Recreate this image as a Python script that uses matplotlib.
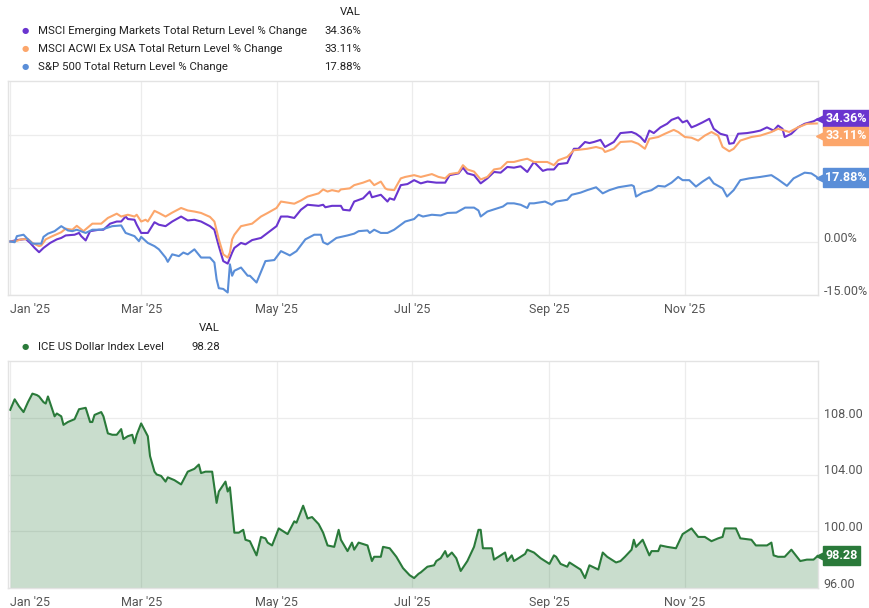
import pandas as pd
import matplotlib
matplotlib.use("Agg")
import matplotlib.pyplot as plt
import matplotlib.dates as mdates
import matplotlib.transforms as mtransforms

plt.rcParams['font.family'] = ['Roboto', 'DejaVu Sans']

# x values are days since 1 Jan 2025
START = pd.Timestamp('2025-01-01')

em_days = [0, 3, 7, 9, 11, 13, 15, 18, 21, 23, 25, 29, 31, 32, 34, 36, 40, 42, 45, 48,
           50, 52, 53, 56, 57, 59, 62, 65, 67, 70, 73, 77, 80, 83, 86, 90, 92, 94, 96, 98,
           100, 101, 104, 106, 109, 113, 116, 120, 122, 125, 128, 131, 134, 139, 141, 142,
           145, 149, 150, 153, 155, 159, 162, 163, 167, 170, 171, 173, 176, 179, 182, 185,
           188, 192, 196, 198, 202, 204, 206, 209, 212, 215, 218, 221, 224, 227, 230, 233,
           236, 240, 242, 245, 247, 251, 254, 256, 259, 261, 263, 266, 268, 272, 275, 280,
           282, 284, 286, 288, 290, 293, 296, 298, 301, 303, 305, 307, 309, 312, 315, 317,
           320, 323, 324, 326, 328, 332, 335, 338, 341, 344, 346, 348, 349, 352, 355, 358,
           362, 364]
em_vals = [0, 0.4, 0.7, -0.4, -1.8, -3.0, -1.8, -0.4, 0.6, 1.0, 1.7, 1.9, 2.4, 1.5, 0.3, 2.9,
           3.3, 3.3, 5.0, 5.6, 5.6, 7.0, 6.3, 6.1, 4.7, 2.4, 2.4, 5.4, 4.7, 4.3, 5.6, 7.0, 5.9,
           6.1, 5.6, 4.3, 3.3, -1.3, -5.5, -6.2, -3.1, -1.8, -0.4, -0.8, 0.4, 1.0, 2.4, 4.3,
           7.0, 7.0, 6.6, 8.9, 10.3, 10.0, 10.3, 9.6, 10.0, 10.0, 8.9, 8.7, 11.2, 12.1, 14.0,
           12.4, 13.1, 11.2, 12.1, 11.7, 15.8, 16.1, 17.2, 16.3, 16.8, 16.5, 16.5, 18.6, 19.1,
           20.7, 19.1, 18.6, 16.3, 17.7, 19.5, 19.3, 20.9, 20.7, 21.1, 19.5, 22.3, 19.8, 20.2,
           20.2, 21.7, 22.0, 26.0, 26.0, 27.9, 27.6, 27.9, 28.5, 26.5, 27.9, 30.4, 30.7, 30.2,
           29.3, 27.9, 31.1, 30.4, 32.0, 33.0, 34.1, 34.8, 33.4, 33.9, 32.0, 32.5, 33.4, 34.4,
           31.6, 30.2, 29.7, 27.4, 27.6, 30.2, 30.4, 30.7, 31.1, 32.0, 31.1, 32.5, 31.6, 29.3,
           30.2, 32.0, 33.0, 33.7, 34.36]

acwi_days = [0, 2, 5, 8, 10, 13, 14, 16, 19, 23, 25, 28, 30, 33, 37, 41, 44, 48, 50, 53,
             56, 57, 59, 61, 62, 65, 67, 70, 73, 77, 80, 83, 86, 90, 92, 94, 96, 98, 99, 100,
             101, 104, 109, 113, 116, 120, 122, 128, 131, 134, 139, 141, 143, 145, 148, 149,
             153, 155, 159, 162, 164, 167, 169, 170, 173, 176, 178, 182, 185, 190, 193, 196,
             198, 202, 204, 206, 209, 212, 215, 218, 221, 224, 227, 230, 233, 236, 242, 245,
             247, 251, 254, 256, 260, 264, 267, 268, 272, 275, 280, 283, 286, 288, 292, 295,
             299, 301, 304, 307, 310, 313, 316, 319, 321, 324, 326, 329, 334, 338, 343, 346,
             349, 351, 355, 359, 364]
acwi_vals = [0, 0, 0.6, 0.7, -0.4, -1.3, -1.1, 0.6, 1.5, 2.6, 3.6, 3.3, 4.4, 2.9, 5.0, 5.0,
             6.6, 7.8, 7.0, 7.5, 7.0, 7.5, 5.6, 6.1, 5.6, 8.6, 8.0, 7.0, 8.1, 9.4, 8.7, 8.4,
             8.0, 6.9, 5.6, 0.6, -3.6, -4.5, -3.1, 0.6, 1.9, 4.3, 5.0, 7.0, 8.0, 9.4, 11.2,
             10.6, 11.5, 12.6, 13.5, 14.6, 14.0, 14.4, 14.0, 14.6, 14.9, 15.8, 16.5, 17.2, 15.8,
             16.8, 14.9, 14.6, 14.4, 17.7, 18.1, 18.6, 18.1, 18.9, 18.1, 17.7, 18.9, 19.3,
             21.4, 20.2, 19.6, 17.4, 18.1, 20.2, 20.5, 22.3, 22.3, 22.8, 23.2, 22.3, 22.3,
             21.4, 22.8, 23.7, 25.6, 25.7, 26.0, 26.5, 26.0, 25.1, 26.0, 27.9, 28.1, 27.4,
             26.0, 28.8, 29.3, 30.2, 31.3, 30.7, 29.3, 29.1, 28.3, 29.7, 30.7, 29.7, 26.5,
             25.3, 26.0, 28.3, 29.3, 29.7, 30.7, 31.6, 31.1, 30.7, 32.0, 33.0, 33.11]

spx_days = [0, 2, 3, 6, 8, 10, 14, 15, 17, 20, 23, 26, 28, 30, 34, 37, 41, 46, 50, 52, 56,
            58, 59, 62, 65, 67, 70, 71, 73, 76, 78, 80, 83, 86, 90, 92, 93, 94, 96, 98, 99,
            100, 101, 104, 107, 108, 111, 115, 119, 122, 126, 129, 133, 137, 140, 141, 143,
            147, 152, 155, 157, 161, 162, 164, 167, 170, 173, 176, 178, 182, 184, 186, 190,
            194, 197, 201, 205, 209, 211, 212, 215, 220, 222, 224, 227, 230, 233, 234, 236,
            241, 244, 246, 251, 253, 257, 260, 264, 267, 270, 274, 280, 281, 282, 285, 289,
            292, 295, 298, 301, 303, 306, 309, 312, 315, 317, 321, 323, 326, 329, 333, 338,
            343, 346, 350, 353, 358, 361, 364]
spx_vals = [0, -0.2, 1.5, 1.9, 0.6, -0.6, -0.6, 1.3, 2.2, 2.9, 4.3, 3.1, 2.9, 3.3, 2.4, 3.3,
            3.3, 4.3, 4.5, 2.4, 1.5, 0.1, 1.3, -0.4, -1.3, -2.2, -4.5, -5.7, -3.6, -4.1, -3.1,
            -3.6, -2.2, -4.5, -4.5, -5.9, -10.6, -13.1, -13.3, -14.3, -6.4, -9.6, -8.2, -7.3,
            -9.6, -9.6, -11.5, -5.5, -5.2, -2.7, -3.9, -2.7, 0.6, 1.9, 1.9, -0.2, -0.8, 1.0,
            1.7, 2.2, 2.9, 3.1, 2.4, 3.3, 2.4, 2.4, 3.3, 4.7, 5.6, 6.3, 7.5, 7.0, 7.5, 7.3,
            8.0, 8.1, 9.5, 9.5, 8.7, 7.0, 8.4, 9.4, 9.8, 10.7, 10.7, 10.3, 9.4, 10.7, 10.7,
            11.2, 10.3, 11.2, 11.7, 13.1, 13.7, 14.4, 15.2, 13.5, 14.4, 15.2, 15.8, 15.5,
            12.6, 13.7, 14.4, 15.6, 15.4, 16.5, 18.1, 17.2, 17.2, 15.4, 16.8, 18.0, 16.3,
            14.9, 12.6, 14.4, 17.2, 17.7, 18.1, 18.6, 17.4, 15.6, 17.7, 19.3, 19.1, 17.88]

dxy_days = [0, 2, 4, 6, 8, 10, 12, 13, 15, 16, 17, 20, 21, 23, 24, 26, 29, 31, 34, 36, 37,
            38, 41, 42, 44, 46, 48, 50, 51, 53, 55, 56, 57, 59, 62, 63, 65, 66, 68, 70, 71,
            74, 77, 80, 83, 85, 86, 88, 91, 93, 94, 97, 98, 99, 101, 103, 105, 106, 108, 111,
            113, 115, 116, 118, 121, 125, 128, 129, 132, 134, 136, 139, 141, 143, 146, 148,
            149, 152, 154, 155, 157, 161, 163, 164, 167, 168, 171, 174, 177, 180, 182, 184,
            185, 188, 191, 192, 194, 196, 197, 199, 201, 203, 206, 209, 211, 212, 213, 217,
            218, 221, 223, 224, 226, 227, 230, 232, 233, 236, 239, 243, 245, 246, 248, 251,
            252, 254, 257, 259, 261, 265, 267, 269, 273, 275, 277, 280, 281, 282, 285, 288,
            289, 292, 293, 296, 300, 303, 307, 310, 313, 316, 319, 321, 322, 327, 329, 334,
            336, 337, 341, 343, 344, 346, 349, 352, 356, 359, 362, 364]
dxy_vals = [108.56, 109.3, 108.8, 108.4, 109.1, 109.7, 109.6, 109.5, 109.1, 109.0, 109.5,
            108.1, 108.3, 108.1, 107.5, 107.7, 107.9, 108.6, 108.7, 107.7, 107.7, 108.2,
            108.4, 108.1, 106.9, 106.8, 106.8, 107.2, 106.5, 106.7, 106.8, 106.2, 106.8,
            107.6, 106.7, 105.3, 104.2, 104.0, 103.9, 103.5, 103.8, 103.6, 103.3, 104.2,
            104.4, 104.7, 104.1, 104.2, 104.2, 102.0, 102.8, 103.5, 102.8, 103.1, 99.9, 99.9,
            100.1, 99.4, 99.3, 98.3, 99.6, 99.5, 99.2, 99.0, 100.2, 99.8, 100.7, 100.6,
            101.8, 100.9, 101.0, 100.5, 99.9, 99.0, 98.9, 100.1, 99.4, 98.6, 99.2, 98.7,
            99.2, 99.0, 97.9, 98.2, 98.2, 98.9, 98.8, 98.2, 97.4, 96.9, 96.7, 97.0, 97.1,
            97.5, 97.6, 97.9, 98.1, 98.6, 98.2, 98.5, 98.1, 97.2, 97.9, 98.9, 100.1, 100.1,
            98.8, 98.8, 98.0, 98.3, 98.5, 97.9, 98.3, 97.9, 98.2, 98.4, 98.7, 98.5, 98.1,
            97.7, 98.3, 98.2, 97.7, 97.5, 97.8, 97.6, 97.3, 96.7, 97.6, 97.3, 98.5, 98.2,
            97.8, 97.9, 98.2, 98.7, 99.4, 98.9, 99.4, 98.3, 98.6, 98.6, 99.0, 98.9, 98.8,
            99.8, 100.2, 99.6, 99.6, 99.3, 99.5, 99.6, 100.2, 100.2, 99.5, 99.4, 99.0, 99.0,
            99.0, 99.2, 98.3, 98.2, 98.2, 98.7, 97.9, 98.0, 98.0, 98.28]

top_names = ['MSCI Emerging Markets Total Return Level % Change',
             'MSCI ACWI Ex USA Total Return Level % Change',
             'S&P 500 Total Return Level % Change']
top_colors = ['#6a35cf', '#fca66b', '#5a8ed8']
top_last = [34.36, 33.11, 17.88]
dxy_name = 'ICE US Dollar Index Level'
dxy_color = '#2a7a3a'
dxy_last = 98.28

pct_ticks = [-15, 0, 15, 30]
dxy_ticks = [96, 100, 104, 108]
month_ticks = ['2025-01-01', '2025-03-01', '2025-05-01', '2025-07-01', '2025-09-01', '2025-11-01']

W, H = 869, 608
TAG_GAP = 17  # min pixel distance between end tags


def to_dates(days):
    return START + pd.to_timedelta(days, unit='D')


def style_axis(ax):
    for sp in ax.spines.values():
        sp.set_color('#e3e3e3')
        sp.set_linewidth(1.0)
    ax.grid(True, color='#ececec', linewidth=0.9)
    ax.set_axisbelow(True)
    ax.yaxis.tick_right()
    ax.tick_params(length=0, labelsize=9, colors='#555555')
    ax.tick_params(axis='x', pad=6)
    ax.tick_params(axis='y', pad=4)
    ax.set_xlim(pd.Timestamp('2024-12-31'), pd.Timestamp('2025-12-31'))
    ax.set_xticks(pd.to_datetime(month_ticks))
    ax.xaxis.set_major_formatter(mdates.DateFormatter("%b '%y"))


def fix_labels(ax):
    # first date label sits flush left, value labels sit on their gridline
    ax.get_xticklabels()[0].set_ha('left')
    for lab in ax.get_yticklabels():
        lab.set_va('baseline')


def end_tags(ax, values, texts, colors):
    tr = mtransforms.blended_transform_factory(ax.transAxes, ax.transData)
    lo, hi = ax.get_ylim()
    units_per_px = (hi - lo) / (ax.get_position().height * H)
    gap = TAG_GAP * units_per_px
    order = sorted(range(len(values)), key=lambda i: -values[i])
    prev = None
    for i in order:
        pos = values[i]
        if prev is not None and prev - pos < gap:
            pos = prev - gap
        prev = pos
        ax.plot([1.004], [pos], marker='<', ms=7, color=colors[i], transform=tr,
                clip_on=False, zorder=5)
        ax.text(1.009, pos, texts[i], transform=tr, ha='left', va='center', color='white',
                fontsize=9, fontweight='bold', zorder=6,
                bbox=dict(boxstyle='square,pad=0.22', fc=colors[i], ec=colors[i]))


fig = plt.figure(figsize=(W / 100, H / 100), dpi=100)

ax1 = fig.add_axes([8 / W, 1 - 295 / H, 810 / W, 214 / H])
ax2 = fig.add_axes([8 / W, 1 - 588 / H, 810 / W, 227 / H])

series = [(em_days, em_vals), (acwi_days, acwi_vals), (spx_days, spx_vals)]
for (d, v), c in zip(series, top_colors):
    ax1.plot(to_dates(d), v, color=c, linewidth=1.5)
style_axis(ax1)
ax1.set_ylim(-15, 45)
ax1.set_yticks(pct_ticks)
ax1.set_yticklabels([f'{t:.2f}%' for t in pct_ticks])
fix_labels(ax1)
end_tags(ax1, top_last, [f'{v:.2f}%' for v in top_last], top_colors)

dx = to_dates(dxy_days)
ax2.fill_between(dx, dxy_vals, 90, color=dxy_color, alpha=0.25, linewidth=0)
ax2.plot(dx, dxy_vals, color=dxy_color, linewidth=1.5)
style_axis(ax2)
ax2.set_ylim(96, 112)
ax2.set_yticks(dxy_ticks)
ax2.set_yticklabels([f'{t:.2f}' for t in dxy_ticks])
fix_labels(ax2)
end_tags(ax2, [dxy_last], [f'{dxy_last:.2f}'], [dxy_color])

# legends
fs = 8.2
fig.text(361 / W, 1 - 12 / H, 'VAL', ha='right', va='center', fontsize=fs, color='#222222')
for i, (name, c, val) in enumerate(zip(top_names, top_colors, top_last)):
    y = 1 - (31 + 18 * i) / H
    fig.text(25 / W, y, '\u25cf', ha='center', va='center', fontsize=6, color=c,
             family='DejaVu Sans')
    fig.text(38 / W, y, name, ha='left', va='center', fontsize=fs, color='#222222')
    fig.text(361 / W, y, f'{val:.2f}%', ha='right', va='center', fontsize=fs, color='#222222')

fig.text(220 / W, 1 - 328 / H, 'VAL', ha='right', va='center', fontsize=fs, color='#222222')
fig.text(25 / W, 1 - 347 / H, '\u25cf', ha='center', va='center', fontsize=6, color=dxy_color,
         family='DejaVu Sans')
fig.text(38 / W, 1 - 347 / H, dxy_name, ha='left', va='center', fontsize=fs, color='#222222')
fig.text(220 / W, 1 - 347 / H, f'{dxy_last:.2f}', ha='right', va='center', fontsize=fs,
         color='#222222')

fig.savefig('out.png', dpi=100)
